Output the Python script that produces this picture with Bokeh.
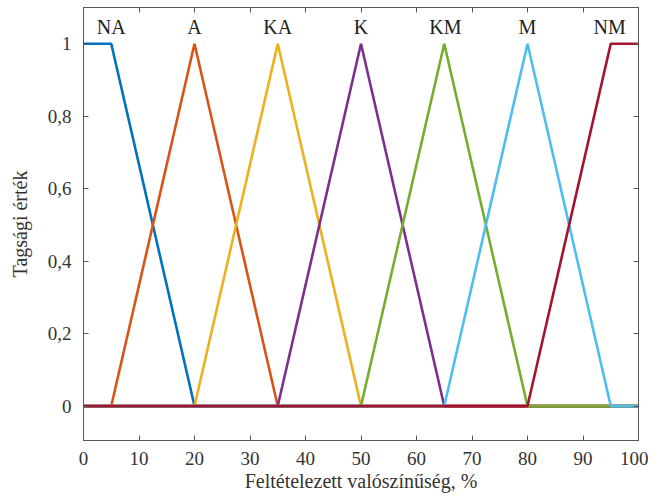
from bokeh.plotting import figure
from bokeh.models import LinearAxis, FixedTicker, Range1d, Label
from bokeh.embed import file_html
from bokeh.resources import INLINE

# breakpoints on the x axis and membership values of each fuzzy set at those points
x_points = [0, 5, 20, 35, 50, 65, 80, 95, 100]
NA = [1, 1, 0, 0, 0, 0, 0, 0, 0]
A = [0, 0, 1, 0, 0, 0, 0, 0, 0]
KA = [0, 0, 0, 1, 0, 0, 0, 0, 0]
K = [0, 0, 0, 0, 1, 0, 0, 0, 0]
KM = [0, 0, 0, 0, 0, 1, 0, 0, 0]
M = [0, 0, 0, 0, 0, 0, 1, 0, 0]
NM = [0, 0, 0, 0, 0, 0, 0, 1, 1]
set_names = ["NA", "A", "KA", "K", "KM", "M", "NM"]
label_x = [5, 20, 35, 50, 65.2, 80, 94.8]
label_y = 1.045
colors = ["#0072BD", "#D95319", "#EDB120", "#7E2F8E", "#77AC30", "#4DBEEE", "#A2142F"]

x_ticks = [0, 10, 20, 30, 40, 50, 60, 70, 80, 90, 100]
y_ticks = [0, 0.2, 0.4, 0.6, 0.8, 1]
y_tick_labels = ["0", "0,2", "0,4", "0,6", "0,8", "1"]

FONT = "Liberation Serif"
AX = "#555555"

p = figure(frame_width=555, frame_height=433, output_backend="svg", toolbar_location=None,
           x_range=Range1d(0, 100), y_range=Range1d(-0.095, 1.1),
           min_border_left=83, min_border_right=10, min_border_top=7, min_border_bottom=20,
           x_axis_label="Feltételezett valószínűség, %", y_axis_label="Tagsági érték")
p.grid.visible = False
p.outline_line_color = AX
p.outline_line_width = 1

series = [NA, A, KA, K, KM, M, NM]
for ys, c in zip(series, colors):
    p.line(x_points, ys, line_color=c, line_width=2.6)

for name, lx in zip(set_names, label_x):
    p.add_layout(Label(x=lx, y=label_y, text=name, text_font=FONT, text_font_size="20px",
                       text_align="center", text_baseline="middle", text_color="#222222"))

def style(ax, labels=True):
    ax.axis_line_color = AX
    ax.major_tick_line_color = AX
    ax.major_tick_in = 5
    ax.major_tick_out = 0
    ax.minor_tick_line_color = None
    ax.major_label_text_font = FONT
    ax.major_label_text_font_size = "19px"
    ax.major_label_text_color = "#333333" if labels else None
    ax.axis_label_text_font = FONT
    ax.axis_label_text_font_style = "normal"
    ax.axis_label_text_font_size = "20px"
    ax.axis_label_text_color = "#333333"

xa = p.xaxis[0]
xa.ticker = FixedTicker(ticks=x_ticks)
xa.major_label_standoff = 11
xa.axis_label_standoff = 2
style(xa)
ya = p.yaxis[0]
ya.ticker = FixedTicker(ticks=y_ticks)
ya.major_label_overrides = {t: l for t, l in zip(y_ticks, y_tick_labels)}
ya.major_label_standoff = 12
ya.axis_label_standoff = 14
style(ya)

top = LinearAxis(ticker=FixedTicker(ticks=x_ticks))
style(top, labels=False)
top.major_label_text_font_size = "1px"
top.major_label_standoff = 0
p.add_layout(top, "above")
right = LinearAxis(ticker=FixedTicker(ticks=y_ticks))
style(right, labels=False)
right.major_label_text_font_size = "1px"
right.major_label_standoff = 0
p.add_layout(right, "right")

open("out.html", "w").write(file_html(p, INLINE))
